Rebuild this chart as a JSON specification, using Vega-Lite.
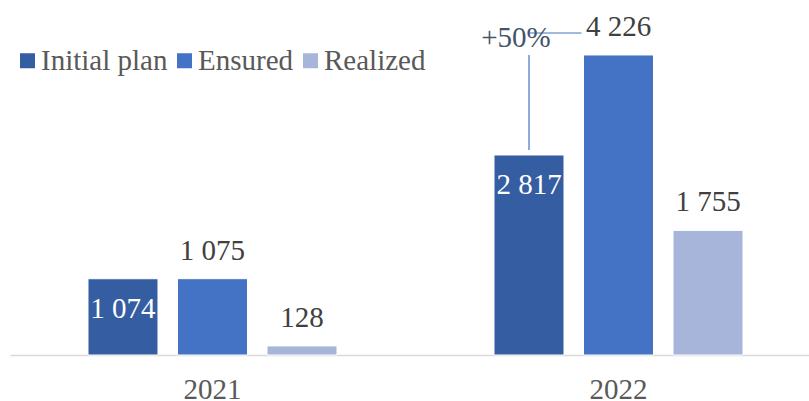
{
  "$schema": "https://vega.github.io/schema/vega-lite/v6.json",
  "width": 799,
  "height": 355,
  "autosize": "none",
  "padding": {"left": 10, "top": 0, "right": 0, "bottom": 46},
  "background": "white",
  "config": {"view": {"stroke": null}, "font": "Liberation Serif"},
  "datasets": {
    "bars": [
      {"year": "2021", "series": "Initial plan", "value": 1074, "label": "1 074"},
      {"year": "2021", "series": "Ensured", "value": 1075, "label": "1 075"},
      {"year": "2021", "series": "Realized", "value": 128, "label": "128"},
      {"year": "2022", "series": "Initial plan", "value": 2817, "label": "2 817"},
      {"year": "2022", "series": "Ensured", "value": 4226, "label": "4 226"},
      {"year": "2022", "series": "Realized", "value": 1755, "label": "1 755"}
    ],
    "note": [
      {"year": "2022", "series": "Initial plan", "lineBottom": 2887, "lineTop": 4225, "hLine": 4535, "textY": 4470, "label": "+50%"}
    ]
  },
  "layer": [
    {
      "data": {"name": "bars"},
      "mark": {"type": "bar", "stroke": "white", "strokeWidth": 1},
      "encoding": {
        "x": {
          "field": "year", "type": "nominal",
          "scale": {"domain": ["2021", "2022"], "paddingInner": 0.3867, "paddingOuter": 0.1773, "align": 0.5417},
          "axis": {"title": null, "domainColor": "#D9D9D9", "domainWidth": 1.5, "ticks": false, "grid": false,
                   "labelFont": "Liberation Serif", "labelFontSize": 29, "labelColor": "#595959", "labelPadding": 43,
                   "labelBaseline": "alphabetic", "labelAngle": 0}
        },
        "xOffset": {
          "field": "series", "type": "nominal",
          "scale": {"domain": ["Initial plan", "Ensured", "Realized"], "paddingInner": 0.218, "paddingOuter": 0}
        },
        "y": {"field": "value", "type": "quantitative", "scale": {"domain": [0, 5000]}, "axis": null},
        "color": {
          "field": "series", "type": "nominal",
          "scale": {"domain": ["Initial plan", "Ensured", "Realized"], "range": ["#355DA1", "#4472C4", "#A8B5DA"]},
          "legend": {"orient": "none", "legendX": 3, "legendY": 46, "direction": "horizontal", "title": null,
                     "symbolType": "square", "symbolSize": 225, "symbolStrokeWidth": 0,
                     "labelFont": "Liberation Serif", "labelFontSize": 29, "labelColor": "#595959",
                     "labelOffset": -1, "columnPadding": 2, "padding": 0, "labelLimit": 300}
        }
      }
    },
    {
      "data": {"name": "bars"},
      "transform": [{"filter": "datum.series === 'Initial plan'"}],
      "mark": {"type": "text", "baseline": "middle", "dy": 30, "color": "white", "fontSize": 29, "font": "Liberation Serif"},
      "encoding": {
        "x": {"field": "year", "type": "nominal"},
        "xOffset": {"field": "series", "type": "nominal"},
        "y": {"field": "value", "type": "quantitative"},
        "text": {"field": "label"}
      }
    },
    {
      "data": {"name": "bars"},
      "transform": [{"filter": "datum.series !== 'Initial plan'"}],
      "mark": {"type": "text", "baseline": "middle", "dy": -28, "color": "#404040", "fontSize": 29, "font": "Liberation Serif"},
      "encoding": {
        "x": {"field": "year", "type": "nominal"},
        "xOffset": {"field": "series", "type": "nominal"},
        "y": {"field": "value", "type": "quantitative"},
        "text": {"field": "label"}
      }
    },
    {
      "data": {"name": "note"},
      "mark": {"type": "rule", "color": "#4472C4", "strokeWidth": 1.2},
      "encoding": {
        "x": {"field": "year", "type": "nominal"},
        "xOffset": {"field": "series", "type": "nominal"},
        "y": {"field": "lineBottom", "type": "quantitative"},
        "y2": {"field": "lineTop"}
      }
    },
    {
      "data": {"name": "note"},
      "mark": {"type": "rule", "color": "#4472C4", "strokeWidth": 1.2, "xOffset": 24, "x2Offset": -37},
      "encoding": {
        "x": {"field": "year", "type": "nominal"},
        "xOffset": {"field": "series", "type": "nominal"},
        "x2": {"field": "year"},
        "y": {"field": "hLine", "type": "quantitative"}
      }
    },
    {
      "data": {"name": "note"},
      "mark": {"type": "text", "baseline": "middle", "dx": -13, "color": "#44546A", "fontSize": 29, "font": "Liberation Serif"},
      "encoding": {
        "x": {"field": "year", "type": "nominal"},
        "xOffset": {"field": "series", "type": "nominal"},
        "y": {"field": "textY", "type": "quantitative"},
        "text": {"field": "label"}
      }
    }
  ]
}
